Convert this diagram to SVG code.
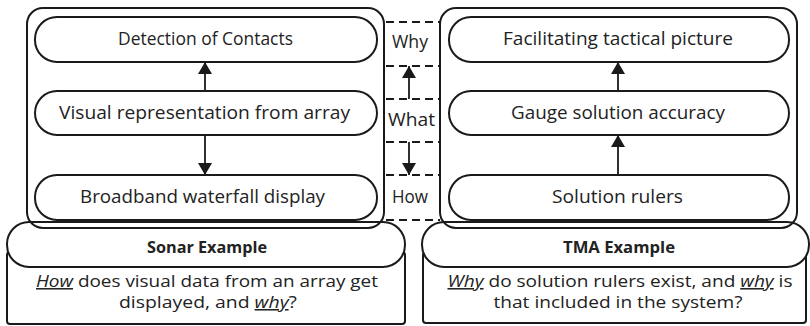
<svg xmlns="http://www.w3.org/2000/svg" width="810" height="326" viewBox="0 0 810 326">
  <defs>
    <marker id="arrow" viewBox="0 0 12 14" refX="12" refY="7" markerWidth="12" markerHeight="14" markerUnits="userSpaceOnUse" orient="auto">
      <path d="M0,0 L12,7 L0,14 Z" fill="#1a1a1a"/>
    </marker>
    <style>
      .box { fill: #fff; stroke: #1a1a1a; stroke-width: 2; }
      .frame { fill: none; stroke: #1a1a1a; stroke-width: 2; }
      .dash { fill: none; stroke: #1a1a1a; stroke-width: 1.8; stroke-dasharray: 8 5; }
      .edge { fill: none; stroke: #1a1a1a; stroke-width: 1.8; marker-end: url(#arrow); }
      .lbl { font-family: "Open Sans", "Noto Sans", sans-serif; font-size: 17.5px; fill: #222; text-anchor: middle; }
      .head { font-family: "Open Sans", "Noto Sans", sans-serif; font-size: 16px; font-weight: bold; fill: #222; text-anchor: middle; }
      .q { font-family: "Open Sans", "Noto Sans", sans-serif; font-size: 15.5px; fill: #222; text-anchor: middle; }
      .em { font-style: italic; text-decoration: underline; }
    </style>
  </defs>

  <!-- caption panels (lower boxes under the pills) -->
  <g id="sonar-caption">
    <rect class="box" x="7" y="252" width="398" height="72" rx="3"/>
    <text class="q" x="207" y="287" textLength="342" lengthAdjust="spacingAndGlyphs"><tspan class="em">How</tspan> does visual data from an array get</text>
    <text class="q" x="208" y="308" textLength="178" lengthAdjust="spacingAndGlyphs">displayed, and <tspan class="em">why</tspan>?</text>
  </g>
  <g id="tma-caption">
    <rect class="box" x="423" y="252" width="383" height="71" rx="3"/>
    <text class="q" x="620" y="287" textLength="345" lengthAdjust="spacingAndGlyphs"><tspan class="em">Why</tspan> do solution rulers exist, and <tspan class="em">why</tspan> is</text>
    <text class="q" x="618" y="308" textLength="249" lengthAdjust="spacingAndGlyphs">that included in the system?</text>
  </g>

  <!-- example title pills -->
  <g id="sonar-title">
    <rect class="box" x="7" y="222" width="398" height="45" rx="22"/>
    <text class="head" x="207" y="253" textLength="120" lengthAdjust="spacingAndGlyphs">Sonar Example</text>
  </g>
  <g id="tma-title">
    <rect class="box" x="422" y="222" width="387" height="45" rx="22"/>
    <text class="head" x="619" y="253" textLength="112" lengthAdjust="spacingAndGlyphs">TMA Example</text>
  </g>

  <!-- outer frames -->
  <g id="sonar-frame">
    <rect class="frame" x="27" y="8" width="357" height="220" rx="16"/>
  </g>
  <g id="tma-frame">
    <rect class="frame" x="440" y="8" width="357" height="220" rx="16"/>
  </g>

  <!-- sonar chain -->
  <g id="detection">
    <rect class="box" x="35" y="17" width="342" height="45" rx="22"/>
    <text class="lbl" x="205.5" y="45" textLength="175" lengthAdjust="spacingAndGlyphs">Detection of Contacts</text>
  </g>
  <g id="visual">
    <rect class="box" x="35" y="91" width="342" height="44" rx="22"/>
    <text class="lbl" x="204.5" y="119" textLength="291" lengthAdjust="spacingAndGlyphs">Visual representation from array</text>
  </g>
  <g id="broadband">
    <rect class="box" x="35" y="175" width="342" height="45" rx="22"/>
    <text class="lbl" x="202.5" y="203" textLength="245" lengthAdjust="spacingAndGlyphs">Broadband waterfall display</text>
  </g>

  <!-- TMA chain -->
  <g id="facilitating">
    <rect class="box" x="449" y="17" width="340" height="45" rx="22"/>
    <text class="lbl" x="618" y="45" textLength="230" lengthAdjust="spacingAndGlyphs">Facilitating tactical picture</text>
  </g>
  <g id="gauge">
    <rect class="box" x="449" y="91" width="340" height="44" rx="22"/>
    <text class="lbl" x="618" y="119" textLength="214" lengthAdjust="spacingAndGlyphs">Gauge solution accuracy</text>
  </g>
  <g id="rulers">
    <rect class="box" x="449" y="175" width="340" height="45" rx="22"/>
    <text class="lbl" x="617.5" y="203" textLength="131" lengthAdjust="spacingAndGlyphs">Solution rulers</text>
  </g>

  <!-- why / what / how ladder -->
  <g id="ladder">
    <line class="dash" x1="386" y1="22" x2="440" y2="22"/>
    <line class="dash" x1="386" y1="66" x2="440" y2="66"/>
    <line class="dash" x1="386" y1="99" x2="440" y2="99"/>
    <line class="dash" x1="386" y1="142" x2="440" y2="142"/>
    <line class="dash" x1="386" y1="175" x2="440" y2="175"/>
    <line class="dash" x1="386" y1="220" x2="440" y2="220"/>
    <text class="lbl" x="410" y="48" textLength="36" lengthAdjust="spacingAndGlyphs">Why</text>
    <text class="lbl" x="411.5" y="126" textLength="47" lengthAdjust="spacingAndGlyphs">What</text>
    <text class="lbl" x="410" y="203" textLength="36" lengthAdjust="spacingAndGlyphs">How</text>
  </g>

  <!-- connectors -->
  <g id="connectors">
    <line class="edge" x1="205" y1="91" x2="205" y2="62"/>
    <line class="edge" x1="205" y1="135" x2="205" y2="175"/>
    <line class="edge" x1="618" y1="91" x2="618" y2="62"/>
    <line class="edge" x1="618" y1="175" x2="618" y2="135"/>
    <line class="edge" x1="409" y1="99" x2="409" y2="66"/>
    <line class="edge" x1="409" y1="142" x2="409" y2="175"/>
  </g>
</svg>
